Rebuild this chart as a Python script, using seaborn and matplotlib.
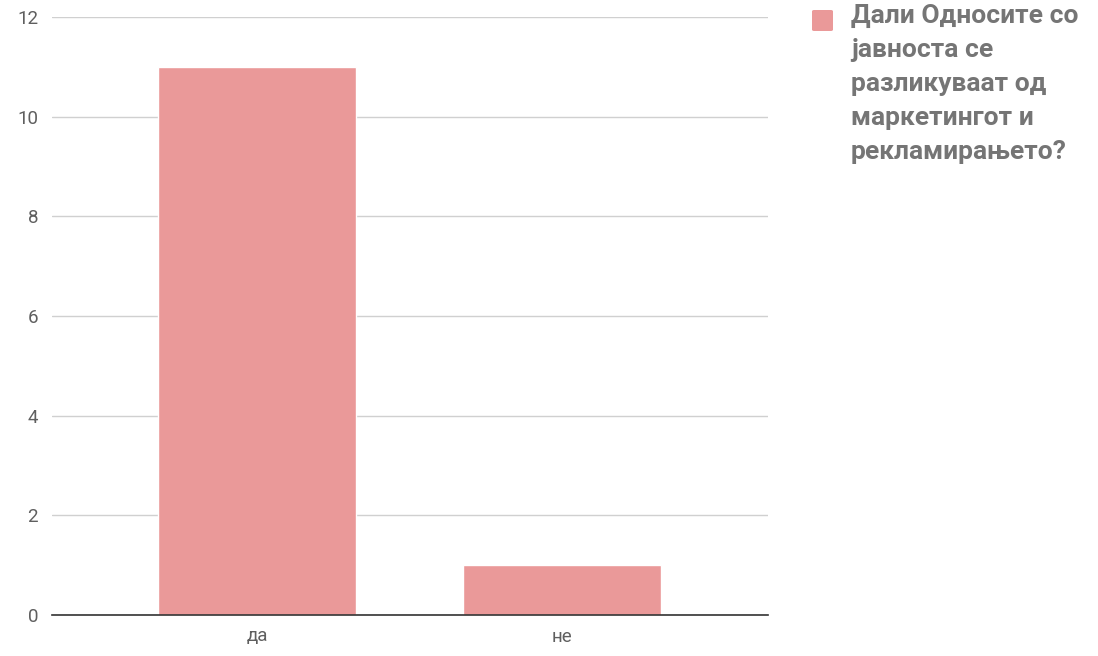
import matplotlib
matplotlib.use("Agg")
import matplotlib.pyplot as plt
import seaborn as sns
import pandas as pd
from matplotlib.patches import FancyBboxPatch

# Survey answers and counts
ANSWERS = ['да', 'не']
COUNTS = [11, 1]
SERIES_LABEL = "Дали Односите со\nјавноста се\nразликуваат од\nмаркетингот и\nрекламирањето?"
Y_TICKS = [0, 2, 4, 6, 8, 10, 12]

BAR_COLOR = '#ea9999'
TEXT_GREY = '#5f5f5f'

sns.set_theme(style='white')
plt.rcParams['font.family'] = ['Roboto', 'DejaVu Sans']

df = pd.DataFrame({'answer': ANSWERS, 'count': COUNTS})

fig = plt.figure(figsize=(10.98, 6.56), dpi=100)
ax = fig.add_axes([0.0474, 0.0625, 0.652, 0.9115])

sns.barplot(data=df, x='answer', y='count', color=BAR_COLOR, width=0.65,
            saturation=1, ax=ax, zorder=3)

ax.set_xlim(-0.672, 1.675)
ax.set_ylim(0, 12)
ax.set_yticks(Y_TICKS)
ax.set_xlabel('')
ax.set_ylabel('')
ax.grid(axis='y', color='#d0d0d0', linewidth=1, zorder=0)
for side in ['top', 'right', 'left']:
    ax.spines[side].set_visible(False)
ax.spines['bottom'].set_color('#333333')
ax.spines['bottom'].set_linewidth(1.2)
ax.spines['bottom'].set_zorder(4)
ax.tick_params(axis='both', length=0, labelsize=13.5, labelcolor=TEXT_GREY)
ax.tick_params(axis='y', pad=10)
ax.tick_params(axis='x', pad=9)

# Legend drawn by hand so the swatch sits at the first line
fig.patches.append(FancyBboxPatch((812 / 1098, 1 - 31 / 656), 21 / 1098, 21 / 656,
                                  boxstyle='round,pad=0,rounding_size=0.002',
                                  transform=fig.transFigure, facecolor=BAR_COLOR,
                                  edgecolor='none'))
fig.text(851 / 1098, 1 - 4 / 656, SERIES_LABEL, ha='left', va='top',
         fontsize=19, fontweight='bold', color='#757575', linespacing=1.52)

fig.savefig('out.png', dpi=100)
